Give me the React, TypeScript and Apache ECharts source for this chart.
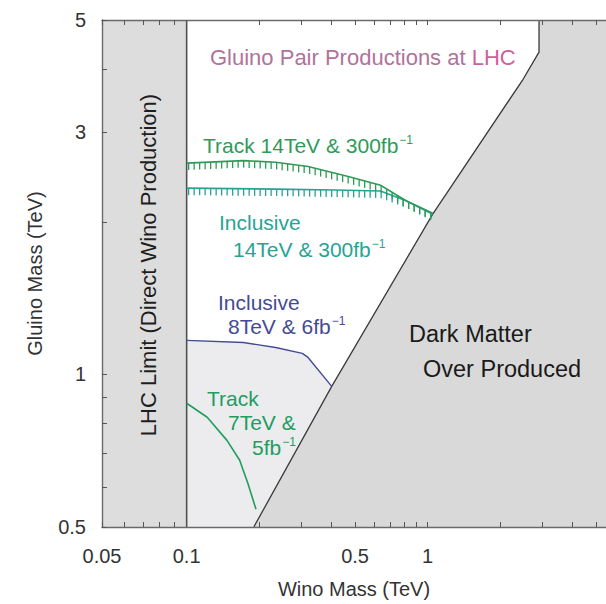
import React, { useEffect, useRef } from 'react';
import * as echarts from 'echarts';

const L = (v: number) => Math.log10(v);
// the LHC-excluded strip below 0.1 TeV is drawn on a stretched log scale
const SUB_STRETCH = 1.167;
const fx = (v: number) => (v >= 0.1 ? L(v) : -1 - (-1 - L(v)) * SUB_STRETCH);
const fy = (v: number) => L(v);

// axis ranges (TeV)
const xRange = [0.05, 5.5];
const yRange = [0.5, 5];

// tick labels
const xTickValues = [0.05, 0.1, 0.5, 1];
const xTickLabels = ['0.05', '0.1', '0.5', '1'];
const yTickValues = [0.5, 1, 3, 5];
const yTickLabels = ['0.5', '1', '3', '5'];
const xMinorTicks = [0.05, 0.06, 0.07, 0.08, 0.09, 0.1, 0.2, 0.3, 0.4, 0.5, 0.6, 0.7, 0.8, 0.9, 1, 2, 3, 4, 5];
const yMinorTicks = [0.5, 0.6, 0.7, 0.8, 0.9, 1, 2, 3, 4, 5];

// LHC direct wino limit
const lhcLimitWino = 0.1;

// Track 14TeV & 300fb^-1
const track14Wino = [0.1, 0.172, 0.234, 0.319, 0.464, 0.638, 0.814, 1.05];
const track14Gluino = [2.61, 2.64, 2.62, 2.57, 2.46, 2.36, 2.2, 2.08];
// Inclusive 14TeV & 300fb^-1
const incl14Wino = [0.1, 0.234, 0.411, 0.638, 0.814, 1.05];
const incl14Gluino = [2.33, 2.32, 2.31, 2.3, 2.2, 2.07];
// Inclusive 8TeV & 6fb^-1
const incl8Wino = [0.1, 0.172, 0.234, 0.302, 0.319, 0.4];
const incl8Gluino = [1.167, 1.156, 1.13, 1.1, 1.08, 0.947];
// Track 7TeV & 5fb^-1
const track7Wino = [0.1, 0.1217, 0.147, 0.166, 0.18, 0.194];
const track7Gluino = [0.877, 0.823, 0.741, 0.677, 0.607, 0.542];
// Dark matter over-production boundary
const dmWino = [0.19, 0.4, 1.05, 2.49, 2.9, 2.9];
const dmGluino = [0.5, 0.947, 2.07, 3.82, 4.32, 5];

const pairs = (xs: number[], ys: number[]) => xs.map((x, i) => [fx(x), fy(ys[i])]);

const polygonSeries = (pts: number[][], fill: string, z: number) => ({
  type: 'custom',
  silent: true,
  clip: true,
  z,
  data: [[fx(0.2), fy(1)]],
  renderItem: (_p: any, api: any) => ({
    type: 'polygon',
    shape: { points: pts.map((p) => api.coord(p)) },
    style: { fill, stroke: 'none' },
  }),
});

const lineSeries = (pts: number[][], color: string, width: number, z = 5) => ({
  type: 'line',
  silent: true,
  z,
  data: pts,
  showSymbol: false,
  symbol: 'none',
  lineStyle: { color, width },
});

const hatchSeries = (pts: number[][], color: string, z = 6) => ({
  type: 'custom',
  silent: true,
  clip: true,
  z,
  data: [[fx(0.2), fy(1)]],
  renderItem: (_p: any, api: any) => {
    const px = pts.map((p) => api.coord(p));
    const children: any[] = [
      { type: 'polyline', shape: { points: px }, style: { stroke: color, lineWidth: 1.6, fill: 'none' } },
    ];
    const x0 = px[0][0];
    const x1 = px[px.length - 1][0];
    for (let x = x0 + 2; x <= x1 - 1; x += 5.5) {
      let k = 0;
      while (k < px.length - 2 && px[k + 1][0] < x) k++;
      const t = (x - px[k][0]) / (px[k + 1][0] - px[k][0]);
      const y = px[k][1] + t * (px[k + 1][1] - px[k][1]);
      children.push({
        type: 'line',
        shape: { x1: x, y1: y, x2: x, y2: y + 7 },
        style: { stroke: color, lineWidth: 1.3 },
      });
    }
    return { type: 'group', children };
  },
});

const findLabel = (v: number, vals: number[], labels: string[], f: (n: number) => number) => {
  const i = vals.findIndex((t) => Math.abs(f(t) - v) < 1e-6);
  return i >= 0 ? labels[i] : '';
};

const FONT = 'Liberation Sans';

export default function App() {
  const ref = useRef<HTMLDivElement>(null);
  useEffect(() => {
    const chart = echarts.init(ref.current!, null, { renderer: 'svg' });

    const lhcRegion = [
      [fx(xRange[0]), fy(yRange[0])],
      [fx(lhcLimitWino), fy(yRange[0])],
      [fx(lhcLimitWino), fy(yRange[1])],
      [fx(xRange[0]), fy(yRange[1])],
    ];
    const dmBoundary = pairs(dmWino, dmGluino);
    const dmRegion = [...dmBoundary, [fx(xRange[1]), fy(yRange[1])], [fx(xRange[1]), fy(yRange[0])]];
    const incl8 = pairs(incl8Wino, incl8Gluino);
    const excluded = [[fx(lhcLimitWino), fy(yRange[0])], ...incl8, [fx(dmWino[0]), fy(dmGluino[0])]];

    const axisLineStyle = { color: '#6a6a6a', width: 1.4 };
    const tickStyle = { color: '#555', width: 1 };

    const text = (t: string, x: number, y: number, color: string, size = 21, extra: any = {}) => ({
      type: 'text',
      x,
      y,
      z: 100,
      silent: true,
      style: {
        text: t,
        fill: color,
        font: `${size}px "${FONT}"`,
        verticalAlign: 'middle',
        rich: {
          sup: { fontSize: 12, fill: color, fontFamily: FONT, verticalAlign: 'top', padding: [0, 0, 10, 1] },
        },
        ...extra,
      },
    });

    const green = '#2e9b58';
    const teal = '#27a394';
    const blue = '#454a95';
    const green7 = '#229c5f';

    const xBase = {
      type: 'value',
      z: 20,
      min: fx(xRange[0]),
      max: fx(xRange[1]),
      axisLine: { show: true, onZero: false, lineStyle: axisLineStyle },
      axisTick: { show: true, inside: true, length: 5, lineStyle: tickStyle, customValues: xMinorTicks.map(fx) },
      splitLine: { show: false },
    };

    chart.setOption({
      animation: false,
      backgroundColor: '#ffffff',
      grid: { left: 102, top: 20, right: -8, bottom: 74, containLabel: false },
      xAxis: [
        {
          ...xBase,
          name: 'Wino Mass (TeV)',
          nameLocation: 'middle',
          nameGap: 52,
          nameTextStyle: { fontFamily: FONT, fontSize: 20, color: '#333' },
          axisLabel: {
            customValues: xTickValues.map(fx),
            formatter: (v: number) => findLabel(v, xTickValues, xTickLabels, fx),
            fontFamily: FONT,
            fontSize: 20,
            color: '#333',
            margin: 19,
          },
        },
        { ...xBase, position: 'top', axisLabel: { show: false } },
      ],
      yAxis: [
        {
          type: 'value',
          z: 20,
          min: fy(yRange[0]),
          max: fy(yRange[1]),
          name: 'Gluino Mass (TeV)',
          nameLocation: 'middle',
          nameGap: 57,
          nameTextStyle: { fontFamily: FONT, fontSize: 20, color: '#333' },
          axisLine: { show: true, onZero: false, lineStyle: axisLineStyle },
          axisTick: { show: true, inside: true, length: 5, lineStyle: tickStyle, customValues: yMinorTicks.map(fy) },
          axisLabel: {
            customValues: yTickValues.map(fy),
            formatter: (v: number) => findLabel(v, yTickValues, yTickLabels, fy),
            fontFamily: FONT,
            fontSize: 20,
            color: '#333',
            margin: 16,
          },
          splitLine: { show: false },
        },
      ],
      series: [
        polygonSeries(lhcRegion, '#dddddd', 1),
        polygonSeries(excluded, '#ececef', 1),
        polygonSeries(dmRegion, '#d9d9d9', 1),
        lineSeries([[fx(lhcLimitWino), fy(yRange[0])], [fx(lhcLimitWino), fy(yRange[1])]], '#505050', 1.6),
        lineSeries(dmBoundary, '#3a3a3a', 1.3),
        lineSeries(incl8, blue, 1.4),
        lineSeries(pairs(track7Wino, track7Gluino), green7, 1.6),
        hatchSeries(pairs(incl14Wino, incl14Gluino), teal),
        hatchSeries(pairs(track14Wino, track14Gluino), green),
      ],
      graphic: [
        text('Gluino Pair Productions at {lhc|LHC}', 210, 57, '#b0739a', 22, {
          rich: { lhc: { fill: '#d0609c', fontSize: 22, fontFamily: FONT } },
        }),
        text('Track 14TeV & 300fb{sup|−1}', 203, 145, green),
        text('Inclusive', 219, 222, teal),
        text('14TeV & 300fb{sup|−1}', 233, 249, teal),
        text('Inclusive', 218, 302, blue),
        text('8TeV & 6fb{sup|−1}', 228, 326, blue),
        text('Track', 207, 398, green7),
        text('7TeV &', 228, 422, green7),
        text('5fb{sup|−1}', 252, 447, green7),
        text('Dark Matter', 409, 334, '#1a1a1a', 23.5),
        text('Over Produced', 423, 369, '#1a1a1a', 23.5),
        {
          type: 'text',
          x: 148,
          y: 265,
          rotation: Math.PI / 2,
          z: 100,
          silent: true,
          style: {
            text: 'LHC Limit (Direct Wino Production)',
            fill: '#1e1e1e',
            font: `22px "${FONT}"`,
            align: 'center',
            verticalAlign: 'middle',
          },
        },
      ],
    });
    return () => chart.dispose();
  }, []);
  return <div ref={ref} style={{ width: 606, height: 604, position: 'absolute', left: 0, top: 0 }} />;
}
